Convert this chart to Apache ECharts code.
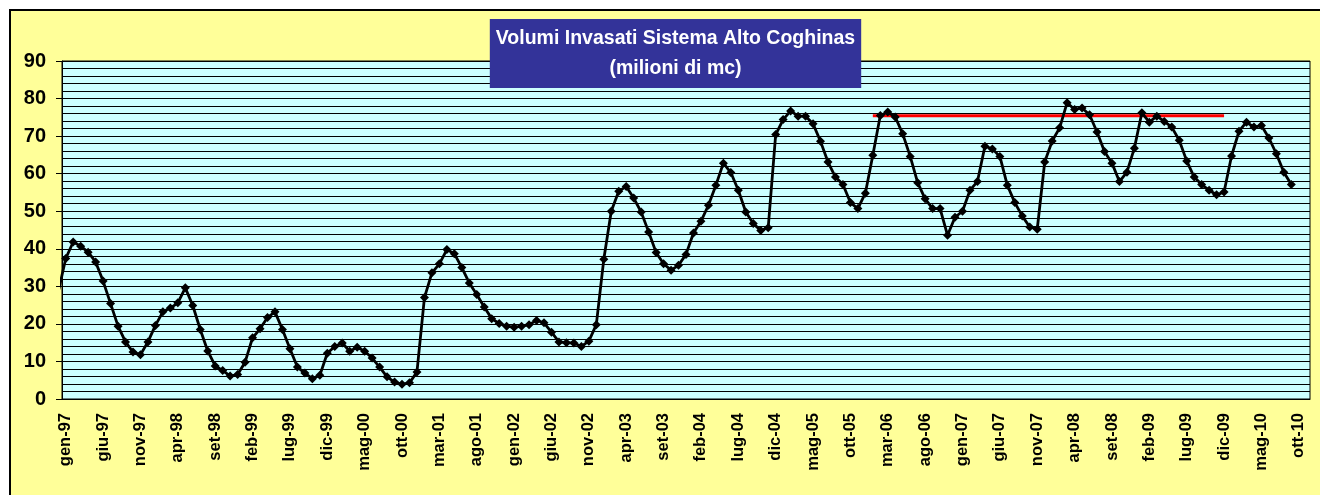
<!DOCTYPE html>
<html>
<head>
<meta charset="utf-8">
<script src="https://cdn.jsdelivr.net/npm/echarts@6/dist/echarts.min.js"></script>
<style>
html, body { margin: 0; padding: 0; background: #fff; overflow: hidden; }
#cornice { position: absolute; left: 9px; top: 9px; width: 1400px; height: 600px; border: 2px solid #000; background: #FFFF99; }
#grafico { position: absolute; left: 0; top: 0; width: 1320px; height: 495px; }
</style>
</head>
<body>
<div id="cornice"></div>
<div id="grafico"></div>
<script>
// mesi dell'asse (da dic-96 a nov-10; dic-96 resta fuori dal riquadro)
var mesi = ['gen', 'feb', 'mar', 'apr', 'mag', 'giu', 'lug', 'ago', 'set', 'ott', 'nov', 'dic'];
var primoAnno = 1996, primoMese = 11, numMesi = 168;
var categorie = [];
for (var i = 0; i < numMesi; i++) {
    var m = primoMese + i;
    var anno = primoAnno + Math.floor(m / 12);
    categorie.push(mesi[m % 12] + '-' + String(anno).slice(2));
}

// volumi invasati (milioni di mc), da dic-96 a set-10
var volumi = [
    28.5,
    37.4, 41.8, 40.7, 39.1, 36.5, 31.4, 25.4, 19.4, 15.2, 12.5, 11.8, 15.2,
    19.6, 23.2, 24.2, 25.6, 29.6, 24.9, 18.5, 12.8, 8.8, 7.6, 6.1, 6.5,
    9.8, 16.3, 18.7, 21.7, 23.2, 18.5, 13.4, 8.5, 6.9, 5.4, 6.3, 12.2,
    14.0, 14.9, 12.7, 13.8, 12.7, 10.9, 8.5, 5.9, 4.5, 3.9, 4.3, 7.2,
    27.0, 33.6, 36.0, 39.8, 38.7, 35.0, 30.9, 27.8, 24.5, 21.4, 20.1, 19.4,
    19.1, 19.4, 19.8, 20.9, 20.3, 17.8, 15.2, 15.0, 14.9, 14.0, 15.4, 19.8,
    37.2, 50.0, 55.3, 56.6, 53.5, 49.8, 44.5, 39.0, 36.0, 34.3, 35.6, 38.5,
    44.2, 47.3, 51.6, 56.9, 62.8, 60.3, 55.6, 49.8, 46.7, 44.9, 45.6, 70.4,
    74.4, 76.7, 75.3, 75.3, 73.3, 68.6, 63.1, 59.1, 57.1, 52.3, 50.7, 54.8,
    64.9, 75.5, 76.4, 75.1, 70.6, 64.6, 57.6, 53.3, 50.7, 50.7, 43.6, 48.4,
    50.0, 55.6, 57.9, 67.3, 66.6, 64.6, 56.9, 52.3, 48.7, 45.8, 45.2, 63.1,
    68.7, 72.2, 78.9, 77.1, 77.5, 75.7, 71.1, 65.9, 62.8, 57.9, 60.4, 66.8,
    76.2, 73.7, 75.3, 73.9, 72.4, 68.9, 63.4, 59.1, 57.1, 55.6, 54.4, 55.1,
    64.7, 71.3, 73.7, 72.4, 72.8, 69.5, 65.3, 60.4, 57.1
];

// linea rossa
var sogliaValore = 75.4;
var sogliaDa = 'gen-06';
var sogliaA = 'dic-09';

var font = '"Liberation Sans", Arial, sans-serif';

function ogniCinque(index) {
    return (index - 1) % 5 === 0;
}

var myChart = echarts.init(document.getElementById('grafico'));
option = {
    animation: false,
    title: {
        text: 'Volumi Invasati Sistema Alto Coghinas\n(milioni di mc)',
        left: 669.5,
        top: 19,
        textAlign: 'center',
        backgroundColor: '#333399',
        padding: [4.5, 6],
        textStyle: {
            color: '#fff',
            fontWeight: 'bold',
            fontSize: 19.5,
            lineHeight: 30,
            fontFamily: font
        }
    },
    grid: {
        left: 62,
        top: 61,
        width: 1248,
        height: 338,
        show: true,
        backgroundColor: '#CCFFFF',
        borderColor: '#000',
        borderWidth: 1
    },
    xAxis: {
        type: 'category',
        data: categorie,
        min: 1,
        boundaryGap: true,
        axisLine: { lineStyle: { color: '#000', width: 1 } },
        axisTick: { interval: ogniCinque, length: 6, lineStyle: { color: '#000' } },
        axisLabel: {
            interval: ogniCinque,
            rotate: 90,
            margin: 14,
            color: '#000',
            fontWeight: 'bold',
            fontSize: 16.5,
            fontFamily: font
        },
        splitLine: { show: false }
    },
    yAxis: {
        type: 'value',
        min: 0,
        max: 90,
        interval: 10,
        axisLine: { show: true, lineStyle: { color: '#000', width: 1 } },
        axisTick: { show: true, length: 6, lineStyle: { color: '#000' } },
        axisLabel: {
            margin: 16,
            color: '#000',
            fontWeight: 'bold',
            fontSize: 20,
            fontFamily: font
        },
        splitLine: { show: true, lineStyle: { color: '#000', width: 1 } },
        minorTick: { show: false, splitNumber: 5 },
        minorSplitLine: { show: true, lineStyle: { color: '#000', width: 1 } }
    },
    series: [{
        type: 'line',
        data: [[sogliaDa, sogliaValore], [sogliaA, sogliaValore]],
        symbol: 'none',
        silent: true,
        lineStyle: { color: '#FF0000', width: 3 }
    }, {
        type: 'line',
        data: volumi,
        symbol: 'diamond',
        symbolSize: 9,
        showAllSymbol: true,
        lineStyle: { color: '#000', width: 2.8 },
        itemStyle: { color: '#000' }
    }]
};
myChart.setOption(option, true);
</script>
</body>
</html>
